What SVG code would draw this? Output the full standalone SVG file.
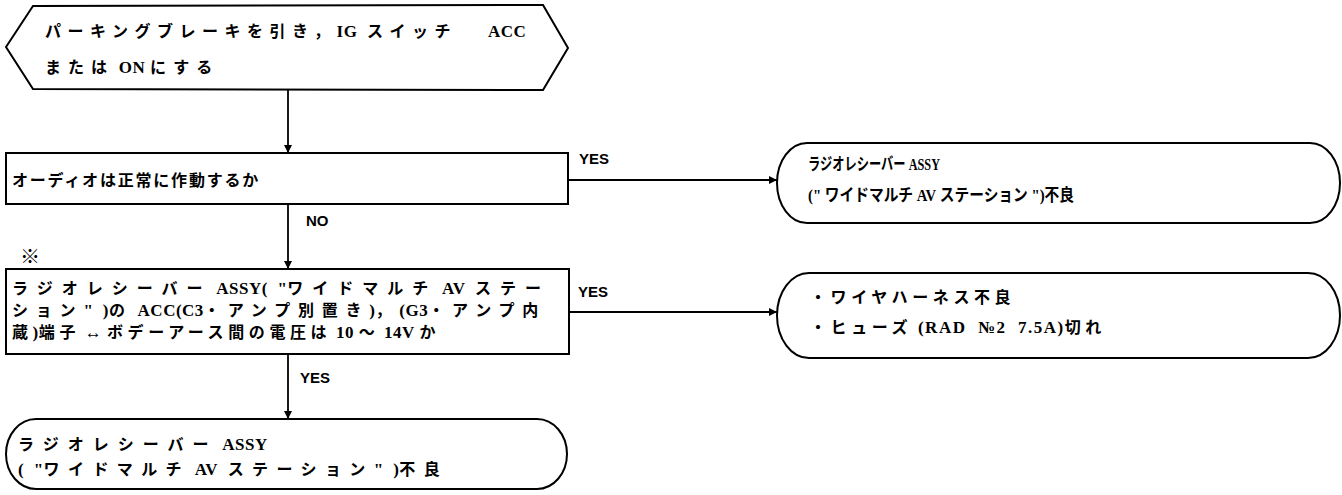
<svg xmlns="http://www.w3.org/2000/svg" width="1342" height="495" viewBox="0 0 1342 495">
<style>
.shape{fill:#fff;stroke:#000;stroke-width:2}
.conn{fill:none;stroke:#000;stroke-width:1.8}
.t{font-family:"Liberation Serif","Noto Sans CJK JP",serif;font-weight:bold;font-size:16px;fill:#000}
.l{font-size:17px;letter-spacing:0.5px}
.lbl{font-family:"Liberation Sans","Noto Sans CJK JP",sans-serif;font-weight:bold;font-size:15px;fill:#000}
</style>
<defs>
<marker id="ah" viewBox="0 0 10 10" refX="10" refY="5" markerWidth="8" markerHeight="8" markerUnits="userSpaceOnUse" orient="auto">
<path d="M0,0 L10,5 L0,10 Z" fill="#000"/>
</marker>
</defs>
<rect width="1342" height="495" fill="#fff"/>
<g id="start">
<path class="shape" d="M6,47 L33,6 L543,5 L568,48 L543,90 L33,89 Z"/>
<text class="t" x="45" y="37" style="letter-spacing:6.5px">パーキングブレーキを引き，<tspan class="l">IG&#160;&#160;</tspan>スイッチ<tspan class="l" x="488">ACC</tspan></text>
<text class="t" x="45" y="73" style="letter-spacing:7px">または<tspan class="l">&#160;ON&#160;</tspan>にする</text>
</g>
<g id="q1">
<rect class="shape" x="6" y="153" width="562" height="51"/>
<text class="t" x="12" y="186" style="letter-spacing:1.8px">オーディオは正常に作動するか</text>
</g>
<g id="r1">
<path class="shape" d="M807,143 H1310 A30 40 0 0 1 1310,223 H807 A30 40 0 0 1 807,143 Z"/>
<text class="t" x="808" y="170" style="font-size:17px" textLength="132" lengthAdjust="spacingAndGlyphs">ラジオレシーバー&#160;ASSY</text>
<text class="t" x="808" y="201" style="font-size:17px" textLength="266" lengthAdjust="spacingAndGlyphs">("&#160;ワイドマルチ&#160;AV&#160;ステーション&#160;")不良</text>
</g>
<g id="q2">
<text class="t" x="20" y="264" style="font-size:20px">※</text>
<rect class="shape" x="6" y="269" width="563" height="85"/>
<text class="t" x="12" y="294" style="letter-spacing:9px">ラジオレシーバー<tspan class="l">&#160;ASSY(&#160;&#160;"</tspan>ワイドマルチ<tspan class="l">&#160;AV&#160;&#160;</tspan>ステー</text>
<text class="t" x="12" y="316" style="letter-spacing:7.8px">ション<tspan class="l">"&#160;&#160;)</tspan>の<tspan class="l">&#160;ACC(C3</tspan>・アンプ別置き<tspan class="l">)</tspan>，<tspan class="l">(G3</tspan>・アンプ内</text>
<text class="t" x="12" y="338" style="letter-spacing:4.6px">蔵<tspan class="l">)</tspan>端子<tspan class="l">&#160;↔&#160;</tspan>ボデーアース間の電圧は<tspan class="l">&#160;10&#160;</tspan>～<tspan class="l">&#160;14V&#160;</tspan>か</text>
</g>
<g id="r2">
<path class="shape" d="M809,273 H1308 A32 42.5 0 0 1 1308,358 H809 A32 42.5 0 0 1 809,273 Z"/>
<text class="t" x="810" y="303" style="letter-spacing:4.6px">・ワイヤハーネス不良</text>
<text class="t" x="810" y="333" style="letter-spacing:4.6px">・ヒューズ<tspan class="l" style="letter-spacing:1.5px">&#160;(RAD&#160;&#160;№2&#160;&#160;7.5A)</tspan>切れ</text>
</g>
<g id="r3">
<path class="shape" d="M36,419 H537 A30 35 0 0 1 537,489 H36 A30 35 0 0 1 36,419 Z"/>
<text class="t" x="18" y="450" style="letter-spacing:9px">ラジオレシーバー<tspan class="l">&#160;ASSY</tspan></text>
<text class="t" x="18" y="475" style="letter-spacing:8.4px"><tspan class="l">(&#160;&#160;"</tspan>ワイドマルチ<tspan class="l">&#160;AV&#160;&#160;</tspan>ステーション<tspan class="l">"&#160;&#160;)</tspan>不良</text>
</g>
<g id="connectors">
<line class="conn" x1="288" y1="90" x2="288" y2="153" marker-end="url(#ah)"/>
<line class="conn" x1="568" y1="180" x2="777" y2="180" marker-end="url(#ah)"/>
<line class="conn" x1="288" y1="204" x2="288" y2="269" marker-end="url(#ah)"/>
<line class="conn" x1="569" y1="312" x2="777" y2="312" marker-end="url(#ah)"/>
<line class="conn" x1="288" y1="354" x2="288" y2="419" marker-end="url(#ah)"/>
<text class="lbl" x="579" y="164">YES</text>
<text class="lbl" x="306" y="226">NO</text>
<text class="lbl" x="578" y="297">YES</text>
<text class="lbl" x="300" y="383">YES</text>
</g>
</svg>
